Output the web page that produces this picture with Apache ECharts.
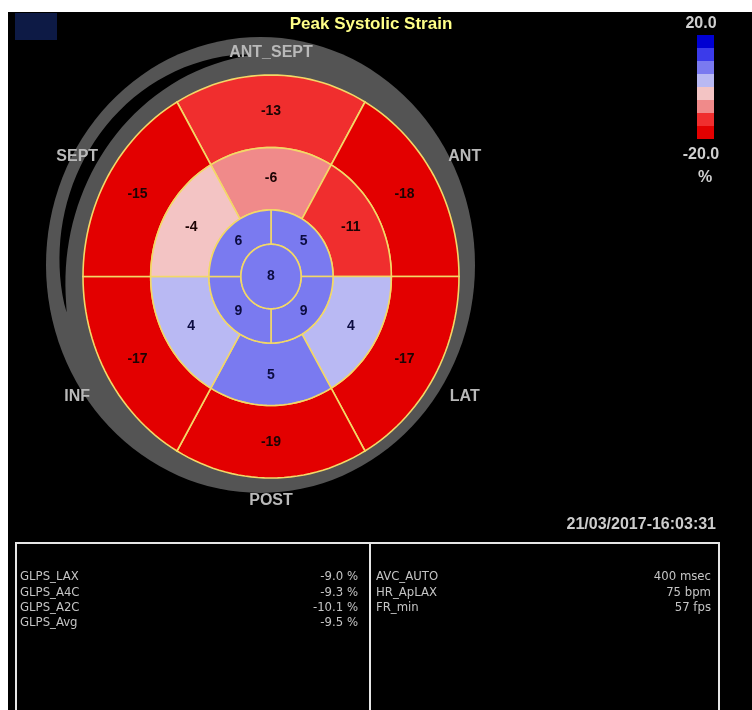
<!DOCTYPE html>
<html>
<head>
<meta charset="utf-8">
<title>Peak Systolic Strain</title>
<script src="https://cdn.jsdelivr.net/npm/echarts@6/dist/echarts.min.js"></script>
<style>
  html, body { margin: 0; padding: 0; background: #ffffff; }
  #chart { width: 752px; height: 710px; }
</style>
</head>
<body>
<div id="chart"></div>
<script>
// ---- Segment strain values (%) ----
// Basal and mid rings, clockwise from the top: ANT_SEPT, ANT, LAT, POST, INF, SEPT
const basalValues = [-13, -18, -17, -19, -17, -15];
const midValues = [-6, -11, 4, 5, 4, -4];
// Apical ring, clockwise from the upper-right quadrant
const apicalValues = [5, 9, 9, 6];
const apexValue = 8;
const wallNames = ['ANT_SEPT', 'ANT', 'LAT', 'POST', 'INF', 'SEPT'];

// ---- Colour scale ----
const scaleMax = 20.0;
const scaleMin = -20.0;
const scaleUnit = '%';

// ---- Global strain / acquisition panel ----
const glpsNames = ['GLPS_LAX', 'GLPS_A4C', 'GLPS_A2C', 'GLPS_Avg'];
const glpsValues = [-9.0, -9.3, -10.1, -9.5];
const acqNames = ['AVC_AUTO', 'HR_ApLAX', 'FR_min'];
const acqValues = [400, 75, 57];
const acqUnits = ['msec', 'bpm', 'fps'];
const timestamp = '21/03/2017-16:03:31';
const chartTitle = 'Peak Systolic Strain';

// ---- Layout ----
const SANS = '"Liberation Sans", Arial, sans-serif';
const NARROW = '"Liberation Sans Narrow", "DejaVu Sans Condensed", sans-serif';
const CX = 271, CY = 276.5, RX = 188, RY = 201.5;           // bullseye centre / radii (px)
const OUTER = { cx: 260.5, cy: 265, rx: 214.5, ry: 228 };   // grey rim
const rings = {
  basal:  { r0: 0.64, r1: 1.00, labelR: 0.82 },
  mid:    { r0: 0.33, r1: 0.64, labelR: 0.49 },
  apical: { r0: 0.16, r1: 0.33, labelR: 0.245 },
  apex:   { r0: 0.00, r1: 0.16, labelR: 0 }
};

// Rows for the custom series: [r0, r1, angleStart, angleEnd, value, labelR, labelAngle]
const segmentData = [];
function addRing(values, ring, firstCentre, span) {
  values.forEach(function (v, i) {
    const c = firstCentre - span * i;
    segmentData.push([ring.r0, ring.r1, c - span / 2, c + span / 2, v, ring.labelR, c]);
  });
}
addRing(basalValues, rings.basal, 90, 60);
addRing(midValues, rings.mid, 90, 60);
addRing(apicalValues, rings.apical, 45, 90);
segmentData.push([rings.apex.r0, rings.apex.r1, 0, 360, apexValue, 0, 90]);

const wallAngles = wallNames.map(function (n, i) { return 90 - 60 * i; });

function renderSegment(params, api) {
  const r0 = api.value(0), r1 = api.value(1);
  const a0 = api.value(2), a1 = api.value(3);
  const v = api.value(4), lr = api.value(5), la = api.value(6) * Math.PI / 180;
  const n = Math.max(12, Math.round((a1 - a0) / 2));
  const pts = [];
  for (let k = 0; k <= n; k++) {
    const a = (a0 + (a1 - a0) * k / n) * Math.PI / 180;
    pts.push(api.coord([r1 * Math.cos(a), r1 * Math.sin(a)]));
  }
  if (r0 > 0) {
    for (let k = n; k >= 0; k--) {
      const a = (a0 + (a1 - a0) * k / n) * Math.PI / 180;
      pts.push(api.coord([r0 * Math.cos(a), r0 * Math.sin(a)]));
    }
  }
  const lp = api.coord([lr * Math.cos(la), lr * Math.sin(la)]);
  return {
    type: 'group',
    children: [
      { type: 'polygon', shape: { points: pts },
        style: { fill: api.visual('color'), stroke: '#f3d867', lineWidth: 1.6 } },
      { type: 'text', x: lp[0], y: lp[1], z2: 10,
        style: { text: String(v), fill: v < 0 ? '#1c0404' : '#0c0c40',
                 font: 'bold 14px ' + SANS, align: 'center', verticalAlign: 'middle',
                 textAlign: 'center', textVerticalAlign: 'middle' } }
    ]
  };
}

function renderWall(params, api) {
  const a = api.value(0) * Math.PI / 180;
  const r = 1.11 + 0.08 * Math.abs(Math.cos(a)) / 0.866;
  const p = api.coord([r * Math.cos(a), r * Math.sin(a)]);
  return {
    type: 'text', x: p[0], y: p[1],
    style: { text: wallNames[params.dataIndex], fill: '#b9b9b9', font: 'bold 16px ' + SANS,
             align: 'center', verticalAlign: 'middle', textAlign: 'center', textVerticalAlign: 'middle' }
  };
}

// Distance along a ray from the bullseye centre to an ellipse boundary
function rayToEllipse(e, dx, dy) {
  const ox = (CX - e.cx) / e.rx, oy = (CY - e.cy) / e.ry;
  const ux = dx / e.rx, uy = dy / e.ry;
  const A = ux * ux + uy * uy, B = 2 * (ox * ux + oy * uy), C = ox * ox + oy * oy - 1;
  return (-B + Math.sqrt(B * B - 4 * A * C)) / (2 * A);
}

// Dark gap in the grey rim (upper-left)
function rimGap() {
  const pts = [], back = [];
  const t0 = 95, t1 = 190;
  for (let t = t0; t <= t1; t += 2.5) {
    const a = t * Math.PI / 180;
    const dx = Math.cos(a), dy = -Math.sin(a);
    const sB = 1 / Math.sqrt((dx / RX) * (dx / RX) + (dy / RY) * (dy / RY));
    const sE = rayToEllipse(OUTER, dx, dy);
    const taper = Math.pow(Math.sin(Math.PI * (t - t0) / (t1 - t0)), 0.7);
    const mid = 0.55, half = 0.16 * taper;
    const s1 = sB + (mid - half) * (sE - sB), s2 = sB + (mid + half) * (sE - sB);
    pts.push([CX + s2 * dx, CY + s2 * dy]);
    back.unshift([CX + s1 * dx, CY + s1 * dy]);
  }
  return pts.concat(back);
}

const graphics = [
  { type: 'rect', z: -5, shape: { x: 8, y: 12, width: 744, height: 698 }, style: { fill: '#000000' } },
  { type: 'rect', z: -4, shape: { x: 15, y: 13, width: 42, height: 27 }, style: { fill: '#0d1a45' } },
  { type: 'circle', z: -3, x: OUTER.cx, y: OUTER.cy, scaleY: OUTER.ry / OUTER.rx,
    shape: { cx: 0, cy: 0, r: OUTER.rx }, style: { fill: '#545454' } },
  { type: 'polygon', z: -2, shape: { points: rimGap() }, style: { fill: '#000000' } },
  { type: 'text', x: 371, y: 24, style: { text: chartTitle, fill: '#ffff88', font: 'bold 17px ' + SANS,
    align: 'center', verticalAlign: 'middle', textAlign: 'center', textVerticalAlign: 'middle' } },
  { type: 'text', x: 701, y: 24, style: { text: scaleMax.toFixed(1), fill: '#cfcfcf', font: 'bold 16px ' + SANS,
    align: 'center', verticalAlign: 'middle', textAlign: 'center', textVerticalAlign: 'middle' } },
  { type: 'text', x: 701, y: 155, style: { text: scaleMin.toFixed(1), fill: '#cfcfcf', font: 'bold 16px ' + SANS,
    align: 'center', verticalAlign: 'middle', textAlign: 'center', textVerticalAlign: 'middle' } },
  { type: 'text', x: 705, y: 178, style: { text: scaleUnit, fill: '#cfcfcf', font: 'bold 16px ' + SANS,
    align: 'center', verticalAlign: 'middle', textAlign: 'center', textVerticalAlign: 'middle' } },
  { type: 'text', x: 716, y: 525, style: { text: timestamp, fill: '#cdcdcd', font: 'bold 16px ' + SANS,
    align: 'right', verticalAlign: 'middle', textAlign: 'right', textVerticalAlign: 'middle' } },
  { type: 'rect', shape: { x: 16, y: 543, width: 703, height: 180 }, style: { fill: null, stroke: '#e6e6e6', lineWidth: 2 } },
  { type: 'line', shape: { x1: 370, y1: 543, x2: 370, y2: 712 }, style: { stroke: '#e6e6e6', lineWidth: 2 } }
];

const rowY0 = 577, rowStep = 15.3;
glpsNames.forEach(function (name, i) {
  const y = rowY0 + rowStep * i;
  graphics.push({ type: 'text', x: 20, y: y, style: { text: name, fill: '#c4c4c4', font: '13px ' + NARROW,
    align: 'left', verticalAlign: 'middle', textAlign: 'left', textVerticalAlign: 'middle' } });
  graphics.push({ type: 'text', x: 358, y: y, style: { text: glpsValues[i].toFixed(1) + ' %', fill: '#c4c4c4',
    font: '13px ' + NARROW, align: 'right', verticalAlign: 'middle', textAlign: 'right', textVerticalAlign: 'middle' } });
});
acqNames.forEach(function (name, i) {
  const y = rowY0 + rowStep * i;
  graphics.push({ type: 'text', x: 376, y: y, style: { text: name, fill: '#c4c4c4', font: '13px ' + NARROW,
    align: 'left', verticalAlign: 'middle', textAlign: 'left', textVerticalAlign: 'middle' } });
  graphics.push({ type: 'text', x: 711, y: y, style: { text: acqValues[i] + ' ' + acqUnits[i], fill: '#c4c4c4',
    font: '13px ' + NARROW, align: 'right', verticalAlign: 'middle', textAlign: 'right', textVerticalAlign: 'middle' } });
});

const chart = echarts.init(document.getElementById('chart'), null, { renderer: 'canvas' });
chart.setOption({
  backgroundColor: 'transparent',
  animation: false,
  grid: { left: CX - RX, top: CY - RY, width: 2 * RX, height: 2 * RY },
  xAxis: { type: 'value', min: -1, max: 1, show: false },
  yAxis: { type: 'value', min: -1, max: 1, show: false },
  visualMap: {
    type: 'piecewise',
    seriesIndex: 0,
    dimension: 4,
    orient: 'vertical',
    left: 682, top: 20,
    itemWidth: 17, itemHeight: 13, itemGap: 0,
    itemSymbol: 'rect',
    showLabel: false,
    selectedMode: false,
    hoverLink: false,
    pieces: [
      { gte: 15, color: '#0000d2' },
      { gte: 10, lt: 15, color: '#3b3bea' },
      { gte: 5, lt: 10, color: '#7a7af0' },
      { gte: 0, lt: 5, color: '#b9b9f3' },
      { gt: -5, lt: 0, color: '#f3c4c4' },
      { gt: -10, lte: -5, color: '#f08a8a' },
      { gt: -15, lte: -10, color: '#f02e2e' },
      { lte: -15, color: '#e30000' }
    ]
  },
  graphic: graphics,
  series: [
    { type: 'custom', coordinateSystem: 'cartesian2d', renderItem: renderSegment,
      data: segmentData, z: 3, silent: true },
    { type: 'custom', coordinateSystem: 'cartesian2d', renderItem: renderWall,
      data: wallAngles.map(function (a) { return [a]; }), z: 3, silent: true }
  ]
});
</script>
</body>
</html>
